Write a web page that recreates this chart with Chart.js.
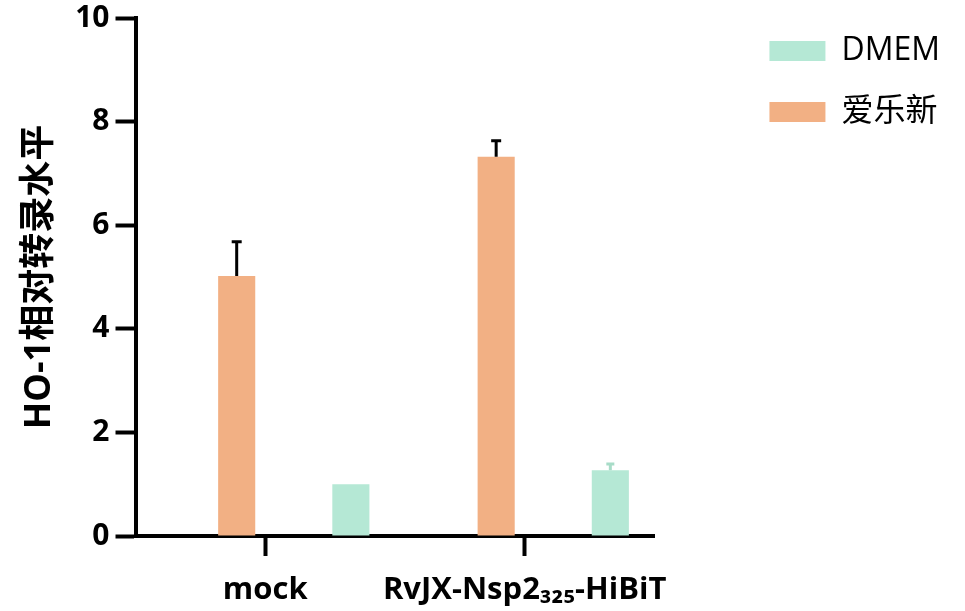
<!DOCTYPE html>
<html>
<head>
<meta charset="utf-8">
<script src="https://cdn.jsdelivr.net/npm/chart.js@4"></script>
<style>
  html, body { margin: 0; padding: 0; background: #fff; }
  #wrap { width: 965px; height: 611px; }
</style>
</head>
<body>
<div id="wrap"><canvas id="chart" width="965" height="611"></canvas></div>
<script>
const categories = ['mock', 'RvJX-Nsp2\u2083\u2082\u2085-HiBiT'];
const seriesNames = ['DMEM', '爱乐新'];
const dmemValues = [1.0, 1.27];
const dmemErrors = [0, 0.12];
const axlValues = [5.02, 7.32];
const axlErrors = [0.66, 0.31];
const yTicks = [0, 2, 4, 6, 8, 10];

const FONT = '"Open Sans", "Noto Sans CJK SC", sans-serif';

// one-sided error bars drawn on top of bars
const errorBars = {
    id: 'errorBars',
    afterDatasetsDraw(chart) {
        const ctx = chart.ctx;
        const yScale = chart.scales.y;
        chart.data.datasets.forEach((ds, i) => {
            if (!ds.errors) return;
            const meta = chart.getDatasetMeta(i);
            meta.data.forEach((bar, j) => {
                const err = ds.errors[j];
                if (!err) return;
                const top = yScale.getPixelForValue(ds.data[j] + err);
                ctx.save();
                ctx.strokeStyle = ds.errorColor;
                ctx.lineWidth = 3;
                ctx.beginPath();
                ctx.moveTo(bar.x, bar.y);
                ctx.lineTo(bar.x, top);
                ctx.moveTo(bar.x - ds.capHalf, top);
                ctx.lineTo(bar.x + ds.capHalf, top);
                ctx.stroke();
                ctx.restore();
            });
        });
    }
};

// empty slot so the bars sit where they do in the original grouping
const spacer = () => ({ label: '', data: categories.map(() => null), backgroundColor: 'rgba(0,0,0,0)' });

new Chart(document.getElementById('chart'), {
    type: 'bar',
    data: {
        labels: categories,
        datasets: [
            spacer(),
            {
                label: seriesNames[1],
                data: axlValues,
                errors: axlErrors,
                errorColor: '#000',
                capHalf: 5,
                backgroundColor: '#F2B084'
            },
            spacer(),
            {
                label: seriesNames[0],
                data: dmemValues,
                errors: dmemErrors,
                errorColor: '#A8DCC8',
                capHalf: 4,
                backgroundColor: '#B5E8D5'
            }
        ]
    },
    options: {
        responsive: false,
        animation: false,
        categoryPercentage: 0.88,
        barPercentage: 0.65,
        layout: { padding: { left: 10, top: 6, right: 15, bottom: 0 } },
        plugins: {
            tooltip: { enabled: false },
            legend: {
                position: 'right',
                align: 'start',
                maxWidth: 300,
                labels: {
                    filter: item => item.text !== '',
                    sort: (a, b) => b.datasetIndex - a.datasetIndex,
                    boxWidth: 56,
                    boxHeight: 20,
                    padding: 29,
                    color: '#000',
                    font: { family: FONT, size: 32 }
                }
            }
        },
        scales: {
            x: {
                offset: true,
                afterFit: s => { s.height = 75; },
                grid: { display: true, offset: false, drawOnChartArea: false, drawTicks: true, tickLength: 20, tickWidth: 4, tickColor: '#000' },
                border: { display: true, color: '#000', width: 4 },
                ticks: {
                    color: '#000',
                    padding: 16,
                    autoSkip: false,
                    maxRotation: 0,
                    font: { family: FONT, size: 31, weight: 'bold' }
                }
            },
            y: {
                min: 0,
                max: 10,
                afterBuildTicks: s => { s.ticks = yTicks.map(v => ({ value: v })); },
                afterFit: s => { s.paddingTop = 18; },
                grid: { display: true, drawOnChartArea: false, drawTicks: true, tickLength: 20, tickWidth: 4, tickColor: '#000' },
                border: { display: true, color: '#000', width: 4 },
                ticks: {
                    color: '#000',
                    padding: 6,
                    font: { family: FONT, size: 30, weight: 'bold' }
                },
                title: {
                    display: true,
                    text: 'HO-1相对转录水平',
                    color: '#000',
                    padding: 8,
                    font: { family: FONT, size: 36, weight: 'bold' }
                }
            },
            // blank right-hand box, keeps the gap between plot and legend
            gap: {
                type: 'linear',
                position: 'right',
                display: true,
                grid: { display: false },
                border: { display: false },
                ticks: { display: false },
                afterFit: s => { s.width = 86; }
            }
        }
    },
    plugins: [errorBars]
});
</script>
</body>
</html>
